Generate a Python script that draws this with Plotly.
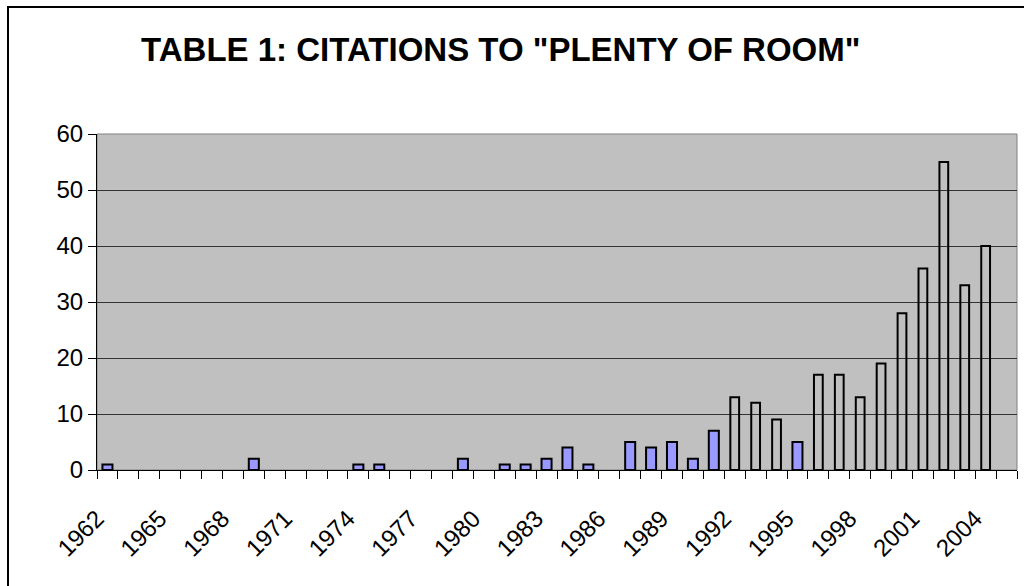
import plotly.graph_objects as go

# Data
blue_years = [1962, 1969, 1974, 1975, 1979, 1981, 1982, 1983, 1984, 1985,
              1987, 1988, 1989, 1990, 1991, 1995]
blue_values = [1, 2, 1, 1, 2, 1, 1, 2, 4, 1, 5, 4, 5, 2, 7, 5]

white_years = [1992, 1993, 1994, 1996, 1997, 1998, 1999, 2000, 2001, 2002, 2003, 2004]
white_values = [13, 12, 9, 17, 17, 13, 19, 28, 36, 55, 33, 40]

all_years = list(range(1962, 2006))
label_years = list(range(1962, 2005, 3))
y_ticks = [0, 10, 20, 30, 40, 50, 60]

FONT = "Arial, Liberation Sans, sans-serif"
X_RANGE = [all_years[0] - 0.5, all_years[-1] + 0.5]
# ticks sit on category boundaries; every third one carries a year label
tick_pos = [y - 0.5 for y in all_years] + [all_years[-1] + 0.5]
tick_txt = [str(y) if y in label_years else "" for y in all_years] + [""]

fig = go.Figure()
fig.add_trace(go.Bar(
    x=blue_years, y=blue_values, width=0.48,
    marker=dict(color="#9999FF", line=dict(color="black", width=2)),
    showlegend=False, hoverinfo="x+y",
))
fig.add_trace(go.Bar(
    x=white_years, y=white_values, width=0.42,
    marker=dict(color="rgba(0,0,0,0)", line=dict(color="black", width=2)),
    showlegend=False, hoverinfo="x+y",
))

fig.update_layout(
    width=1024, height=586,
    margin=dict(l=97, r=7, t=134, b=116),
    paper_bgcolor="white",
    plot_bgcolor="#C0C0C0",
    barmode="overlay",
    font=dict(family=FONT, color="black"),
    title=dict(
        text='<b>TABLE 1: CITATIONS TO "PLENTY OF ROOM"</b>',
        x=0.489, xref="container", xanchor="center",
        y=1 - 49 / 586, yref="container", yanchor="middle",
        font=dict(family=FONT, size=33, color="black"),
    ),
    xaxis=dict(
        type="linear", range=X_RANGE,
        tickmode="array", tickvals=tick_pos, ticktext=tick_txt,
        tickangle=-45,
        ticks="outside", ticklen=8, tickcolor="#000000", tickwidth=1,
        ticklabelstandoff=16,
        tickfont=dict(family=FONT, size=24, color="black"),
        showgrid=False, zeroline=False,
        showline=True, linecolor="black", linewidth=1,
    ),
    yaxis=dict(
        range=[0, 60], tickvals=y_ticks,
        ticks="outside", ticklen=8, tickcolor="#000000", tickwidth=1,
        tickfont=dict(family=FONT, size=24, color="black"),
        showgrid=True, gridcolor="#333333", gridwidth=1,
        zeroline=False,
        showline=True, linecolor="black", linewidth=1,
    ),
    shapes=[
        # plot-area frame (top/right gray edge)
        dict(type="rect", xref="paper", yref="paper", x0=0, y0=0, x1=1, y1=1,
             line=dict(color="#808080", width=1), layer="below"),
        # outer chart border
        dict(type="rect", xref="paper", yref="paper",
             x0=(8 - 97) / 920, y0=(470 - 600) / 336,
             x1=(1030 - 97) / 920, y1=(470 - 7) / 336,
             line=dict(color="black", width=2), layer="above"),
    ],
)

fig.write_html(
    "out.html",
    config={"displayModeBar": False},
    post_script="document.body.style.margin='0';document.body.style.overflow='hidden';",
)
